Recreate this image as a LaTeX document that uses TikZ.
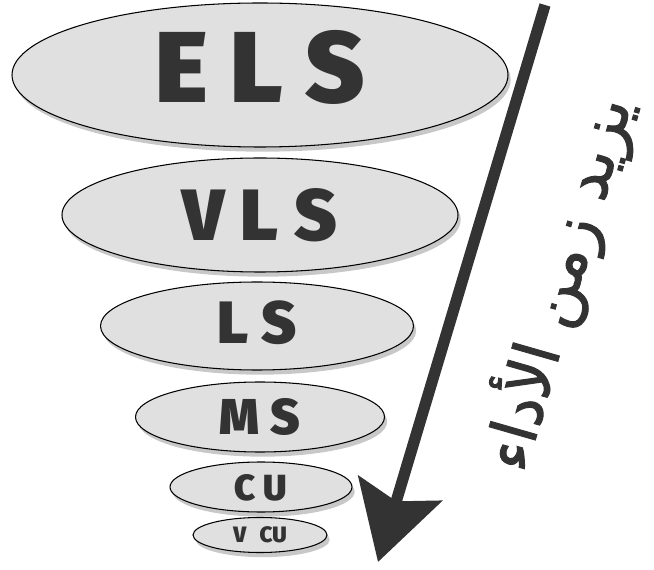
\documentclass[tikz,border=0pt]{standalone}
\usepackage{fontspec}
\usepackage{tikz}
\usetikzlibrary{arrows.meta, shapes.geometric, shadows}
\TeXXeTstate=1
\newfontfamily\levelfont{Fira Sans Black}
\newfontfamily\arabicfont[Script=Arabic, FakeBold=1.5]{DejaVu Sans}
\definecolor{levelgray}{HTML}{E0E0E0}
\definecolor{inkgray}{HTML}{333333}
\definecolor{shadowgray}{HTML}{9A9A9A}

\begin{document}
\begin{tikzpicture}[x=0.3mm, y=0.3mm,
    level/.style={ellipse, draw=black, line width=0.9pt, fill=levelgray,
      inner sep=0pt, text=inkgray,
      drop shadow={shadow xshift=0.8mm, shadow yshift=-1.4mm, fill=shadowgray, opacity=0.55}},
    timearrow/.style={draw=inkgray, line width=3.4mm,
      -{Stealth[length=23mm, width=26mm, inset=4mm]}}]
        \useasboundingbox (0,0) rectangle (654,569);
        \foreach \name/\x/\y/\w/\h/\sz/\dep/\txt in {
            els/260/494/496/144/86/5.4/{E L S},
            vls/260/354/396/114/62/0/{V L S},
            ls/257/243/313/88/51/2.4/{L S},
            ms/260/152/249/70/43/0.6/{M S},
            cu/261/82/182/50/31/0/{C U},
            vcu/260/34/134/35/19/0/{V\hspace{0.6em}CU}}
          \node[level, minimum width=\w*0.3mm, minimum height=\h*0.3mm, text depth=\dep mm,
                font=\levelfont\fontsize{\sz}{\sz}\selectfont] (\name) at (\x,\y) {\txt};
        \coordinate (start) at (545,564);
        \coordinate (tip) at (378,7);
        \draw[timearrow] (start) -- (tip);
        \node[rotate=74, text=inkgray, font=\arabicfont\fontsize{54}{54}\selectfont]
          (caption) at (557,286) {\beginR يزيد زمن الأداء\endR};
\end{tikzpicture}
\end{document}
